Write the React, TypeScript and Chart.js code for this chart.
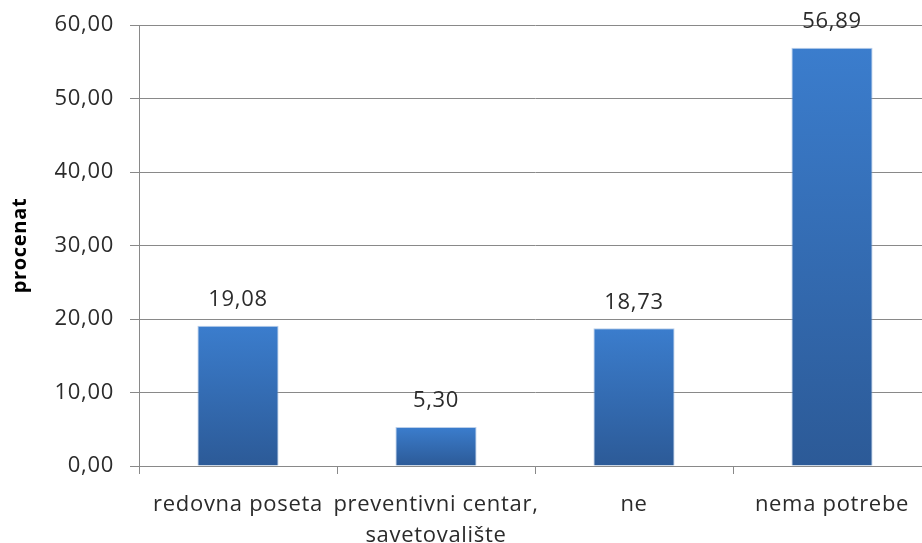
import React, { useEffect, useRef } from "react";
import { Chart, registerables } from "chart.js";

Chart.register(...registerables);

// Share of respondents by answer
const categories: (string | string[])[] = [
  "redovna poseta",
  ["preventivni centar,", "savetovalište"],
  "ne",
  "nema potrebe",
];
const values: number[] = [19.08, 5.3, 18.73, 56.89];
const yTicks: number[] = [0, 10, 20, 30, 40, 50, 60];
const yTitle = "procenat";

const FONT = "'Open Sans', 'Noto Sans', sans-serif";
const TEXT = "#2b2b2b";
const GRID = "#898989";
const BAR_TOP = "#3b7dcd";
const BAR_BOTTOM = "#2c5a97";
const SPACING = "0.7px";

const fmt = (v: number) => v.toFixed(2).replace(".", ",");

// Slightly loose letter spacing for every text drawn on the canvas
const textSpacing = {
  id: "textSpacing",
  beforeDraw(chart: any) {
    (chart.ctx as any).letterSpacing = SPACING;
  },
};

// Draws the value above each bar
const valueLabels = {
  id: "valueLabels",
  afterDatasetsDraw(chart: any) {
    const { ctx } = chart;
    const meta = chart.getDatasetMeta(0);
    ctx.save();
    (ctx as any).letterSpacing = SPACING;
    ctx.font = `22px ${FONT}`;
    ctx.fillStyle = TEXT;
    ctx.textAlign = "center";
    ctx.textBaseline = "middle";
    meta.data.forEach((el: any, i: number) => {
      ctx.fillText(fmt(values[i]), el.x, el.y - 26);
    });
    ctx.restore();
  },
};

export default function App() {
  const ref = useRef<HTMLCanvasElement | null>(null);

  useEffect(() => {
    if (!ref.current) return;
    const chart = new Chart(ref.current, {
      type: "bar",
      data: {
        labels: categories,
        datasets: [
          {
            data: values,
            backgroundColor: (c: any) => {
              const chart = c.chart;
              const y = chart.scales?.y;
              if (!y || c.dataIndex === undefined) return BAR_TOP;
              const top = y.getPixelForValue(values[c.dataIndex]);
              const base = y.getPixelForValue(0);
              if (!isFinite(top) || !isFinite(base) || top === base) return BAR_TOP;
              const g = chart.ctx.createLinearGradient(0, top, 0, base);
              g.addColorStop(0, BAR_TOP);
              g.addColorStop(1, BAR_BOTTOM);
              return g;
            },
            borderColor: "rgba(140,175,220,0.6)",
            borderWidth: 1,
            borderSkipped: "bottom",
            barPercentage: 0.41,
            categoryPercentage: 1,
          },
        ],
      },
      options: {
        animation: false,
        responsive: false,
        maintainAspectRatio: false,
        layout: { padding: { top: 25, right: 0, left: 0, bottom: 0 } },
        plugins: {
          legend: { display: false },
          tooltip: { enabled: false },
        },
        scales: {
          x: {
            grid: {
              display: true,
              drawOnChartArea: false,
              drawTicks: true,
              tickLength: 8,
              color: GRID,
              offset: true,
            },
            border: { display: true, color: GRID, width: 1 },
            ticks: {
              color: TEXT,
              font: { family: FONT, size: 22, lineHeight: 1.38 },
              padding: 16,
              maxRotation: 0,
              autoSkip: false,
            },
            afterFit: (s: any) => {
              s.height = 77;
            },
          },
          y: {
            min: 0,
            max: 60,
            afterBuildTicks: (s: any) => {
              s.ticks = yTicks.map((v) => ({ value: v }));
            },
            grid: {
              color: GRID,
              tickLength: 9,
              drawTicks: true,
            },
            border: { display: true, color: GRID, width: 1 },
            ticks: {
              color: TEXT,
              font: { family: FONT, size: 22 },
              padding: 16,
              callback: (v: any) => fmt(Number(v)),
            },
            title: {
              display: true,
              text: yTitle,
              color: "#000",
              font: { family: FONT, size: 20, weight: "bold" },
              padding: { top: 8, bottom: 0 },
            },
            afterFit: (s: any) => {
              s.width = 139;
              s.paddingTop = 4;
              s.paddingBottom = 4;
            },
          },
        },
      },
      plugins: [textSpacing, valueLabels],
    });
    return () => chart.destroy();
  }, []);

  return (
    <div
      style={{
        position: "fixed",
        left: 0,
        top: 0,
        width: 922,
        height: 543,
        overflow: "hidden",
        background: "#fff",
      }}
    >
      <canvas ref={ref} width={931} height={543} style={{ display: "block" }} />
    </div>
  );
}
